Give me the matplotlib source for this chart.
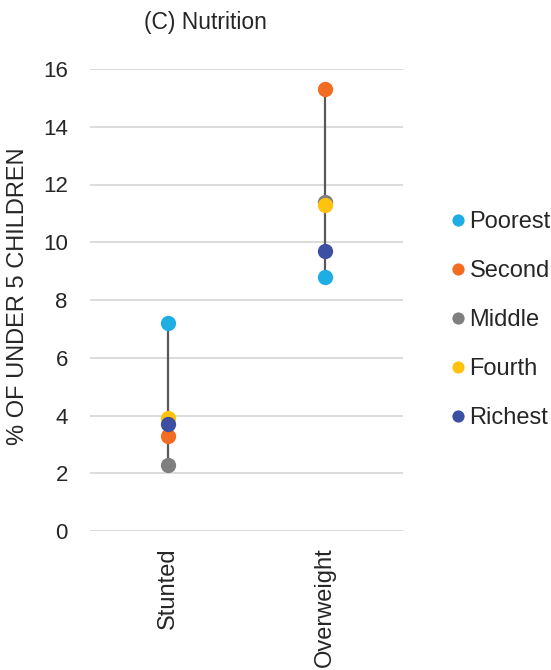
import matplotlib.pyplot as plt
import numpy as np

plt.rcParams['font.family'] = ['Liberation Sans', 'DejaVu Sans']

categories = ['Stunted', 'Overweight']
groups = ['Poorest', 'Second', 'Middle', 'Fourth', 'Richest']
colors = ['#1FAEE3', '#F26C22', '#7F7F7F', '#FFC20E', '#3B4FA3']
poorest = [7.2, 8.8]
second = [3.3, 15.3]
middle = [2.3, 11.4]
fourth = [3.9, 11.3]
richest = [3.7, 9.7]
values = np.array([poorest, second, middle, fourth, richest])

fig = plt.figure(figsize=(5.51, 6.70), dpi=100)
ax = fig.add_axes([90 / 551, 139 / 670, 313 / 551, 462 / 670])

x = np.arange(len(categories))
# range line from lowest to highest quintile
ax.vlines(x, values.min(axis=0), values.max(axis=0), color='#595959', linewidth=1.6, zorder=2)
for name, col, vals in zip(groups, colors, values):
    ax.plot(x, vals, 'o', color=col, markersize=11, markeredgewidth=0, label=name, zorder=3)

ax.set_xlim(-0.5, 1.5)
ax.set_ylim(0, 16)
ax.set_yticks(np.arange(0, 17, 2))
ax.set_xticks(x)
ax.set_xticklabels(categories, rotation=90, va='top', ha='center')
ax.tick_params(axis='both', length=0, labelsize=16, colors='#262626')
ax.tick_params(axis='x', labelsize=17, pad=12)
ax.tick_params(axis='y', pad=16)
ax.yaxis.grid(True, color='#D9D9D9', linewidth=1.3)
ax.set_axisbelow(True)
for s in ax.spines.values():
    s.set_visible(False)

fig.text(205 / 551, 1 - 22 / 670, '(C) Nutrition', ha='center', va='center', fontsize=16.5, color='#262626')
fig.text(18 / 551, 1 - 296 / 670, '% OF UNDER 5 CHILDREN', rotation=90, ha='center', va='center',
         fontsize=17, color='#262626')

leg = fig.legend(loc='upper left', bbox_to_anchor=(440 / 551, 1 - 199 / 670), frameon=False,
                 fontsize=17, markerscale=0.8, handlelength=0.5, handletextpad=0.25,
                 labelspacing=1.15, borderpad=0)
for t in leg.get_texts():
    t.set_color('#262626')

fig.savefig('out.png', dpi=100)
